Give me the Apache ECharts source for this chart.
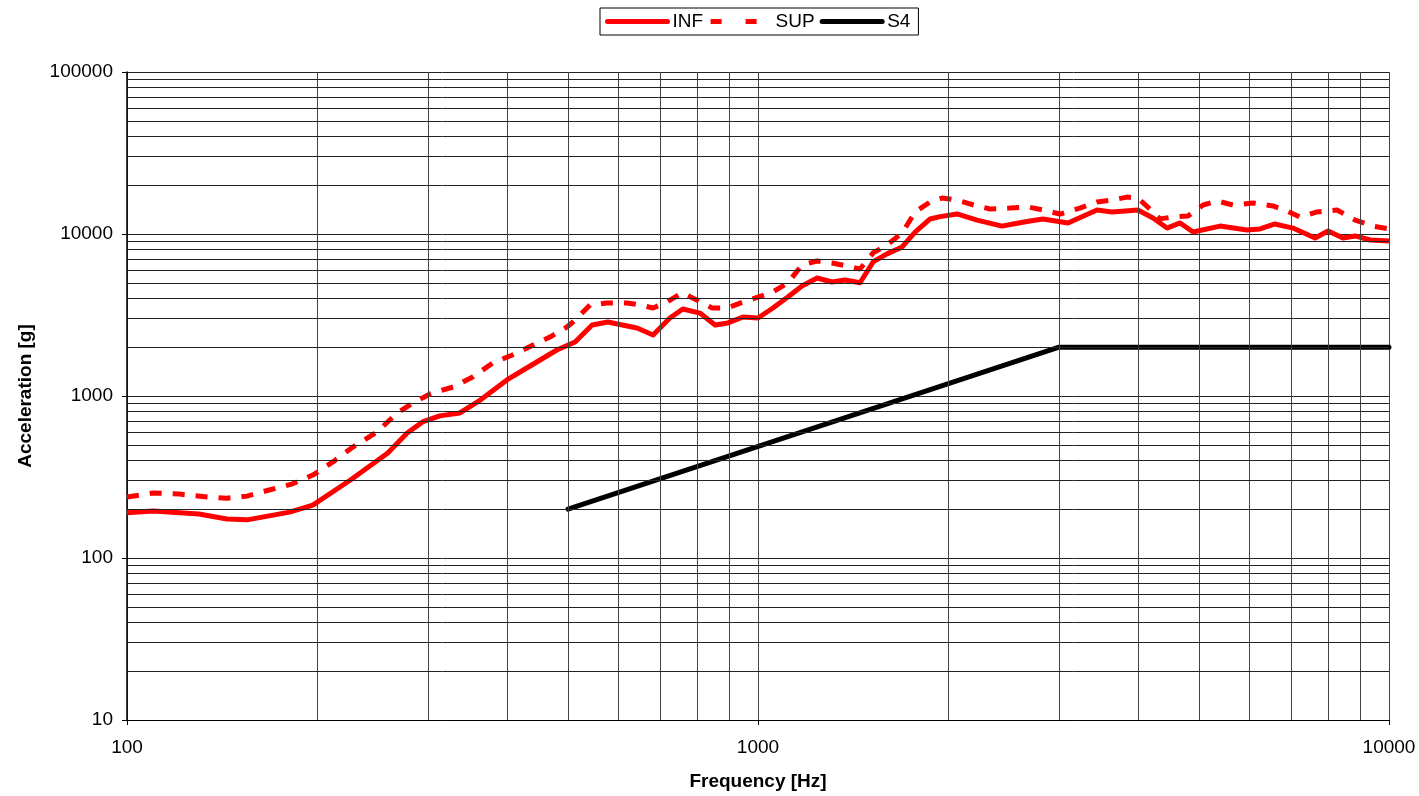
<!DOCTYPE html>
<html>
<head>
<meta charset="utf-8">
<title>Acceleration vs Frequency</title>
<script src="https://cdn.jsdelivr.net/npm/echarts@6/dist/echarts.min.js"></script>
<style>
  html, body { margin: 0; padding: 0; background: #fff; }
  #chart { width: 1419px; height: 796px; }
</style>
</head>
<body>
<div id="chart"></div>
<script>
// Lower envelope (INF): frequency [Hz] and acceleration [g]
const infFreq = [100, 110, 130, 144, 155, 181, 197, 226, 259, 278, 294, 313, 337, 363, 400, 430, 480, 513, 546, 578,
  643, 682, 725, 760, 809, 855, 896, 947, 1000, 1056, 1115, 1174, 1241, 1310, 1374, 1451, 1522, 1601, 1692, 1774,
  1874, 1943, 2067, 2224, 2436, 2536, 2698, 2829, 3099, 3446, 3640, 4000, 4227, 4448, 4666, 4892, 5398, 5956, 6246,
  6596, 7043, 7634, 8007, 8456, 8838, 9333, 10000];
const infVal = [190, 195, 187, 174, 172, 192, 212, 303, 445, 591, 692, 754, 786, 944, 1256, 1489, 1923, 2155, 2743, 2864,
  2630, 2380, 3030, 3441, 3250, 2743, 2825, 3075, 3030, 3493, 4083, 4775, 5350, 5055, 5200, 5000, 6720, 7540, 8318, 10280,
  12380, 12800, 13300, 12190, 11190, 11530, 12030, 12380, 11700, 14060, 13680, 14060, 12560, 10880, 11700, 10280, 11190, 10590, 10740,
  11530, 10880, 9440, 10430, 9440, 9730, 9180, 9060];

// Upper envelope (SUP)
const supFreq = [100, 110, 121, 134, 144, 155, 168, 183, 197, 212, 228, 249, 268, 284, 302, 329, 353, 380, 415, 440,
  468, 498, 509, 542, 576, 620, 650, 682, 717, 758, 800, 846, 893, 947, 1000, 1056, 1115, 1174, 1241, 1310,
  1384, 1451, 1522, 1601, 1692, 1774, 1874, 1957, 2067, 2224, 2332, 2507, 2679, 2829, 3010, 3237, 3446, 3640, 3844,
  4000, 4227, 4336, 4547, 4803, 5074, 5338, 5658, 6088, 6547, 6841, 7227, 7690, 8272, 8838, 9432, 10000];
const supVal = [238, 252, 248, 238, 234, 241, 263, 287, 325, 392, 484, 600, 786, 905, 1029, 1138, 1310, 1600, 1841, 2064,
  2311, 2666, 2864, 3648, 3750, 3750, 3648, 3493, 3800, 4325, 3917, 3493, 3493, 3800, 4083, 4385, 4990, 6443, 6810, 6620,
  6340, 6080, 7640, 8550, 10140, 13680, 15770, 16680, 16200, 14890, 14270, 14460, 14690, 14060, 13280, 14460, 15770, 16200, 16900,
  16680, 13680, 12400, 12740, 12930, 15100, 16000, 15100, 15540, 14890, 14060, 12740, 13680, 14060, 12190, 11190, 10740];

// S4 specification line
const s4Freq = [500, 3000, 10000];
const s4Val = [200, 2000, 2000];

// Axis ranges
const xMin = 100, xMax = 10000;
const yMin = 10, yMax = 100000;

const pairs = (xs, ys) => xs.map((x, i) => [x, ys[i]]);

// minor grid positions: 2..9 times each decade
function minorSteps(lo, hi) {
  const out = [];
  for (let d = lo; d < hi; d *= 10) {
    for (let k = 2; k <= 9; k++) out.push(d * k);
  }
  return out;
}
const minorX = minorSteps(xMin, xMax);
const minorY = minorSteps(yMin, yMax);

const chart = echarts.init(document.getElementById('chart'), null, { renderer: 'canvas' });

const fontFamily = 'Liberation Sans, Arial, sans-serif';
const tickFont = { fontFamily, fontSize: 19, color: '#000' };
const titleFont = { fontFamily, fontSize: 19, fontWeight: 'bold', color: '#000' };
// legend icons are plain line segments, so the marker is hidden
const noMarker = { color: 'rgba(0,0,0,0)', borderWidth: 0, opacity: 0 };

chart.setOption({
  animation: false,
  backgroundColor: '#fff',
  grid: { left: 127, right: 30, top: 72, bottom: 76, containLabel: false },
  legend: {
    left: 600,
    top: 8,
    padding: [4, 8, 4, 5],
    itemGap: 5,
    itemWidth: 60,
    itemHeight: 14,
    borderColor: '#000',
    borderWidth: 1,
    backgroundColor: '#fff',
    textStyle: { fontFamily, fontSize: 19, color: '#000' },
    data: [
      { name: 'INF', itemStyle: noMarker, lineStyle: { color: '#ff0000', width: 5, cap: 'round' } },
      { name: 'SUP', itemStyle: noMarker, lineStyle: { color: '#ff0000', width: 5, type: [11, 24] } },
      { name: 'S4', itemStyle: noMarker, lineStyle: { color: '#000', width: 5, cap: 'round' } }
    ]
  },
  xAxis: {
    type: 'log',
    logBase: 10,
    min: xMin,
    max: xMax,
    name: 'Frequency [Hz]',
    nameLocation: 'middle',
    nameGap: 52,
    nameTextStyle: titleFont,
    axisLine: { show: true, onZero: false, lineStyle: { color: '#000', width: 1 } },
    axisTick: { show: true, inside: false, length: 5, lineStyle: { color: '#000' } },
    axisLabel: Object.assign({ margin: 18, formatter: v => String(Math.round(v)) }, tickFont),
    splitLine: { show: true, lineStyle: { color: '#444', width: 1 } },
    minorTick: { show: false },
    minorSplitLine: { show: false }
  },
  yAxis: {
    type: 'log',
    logBase: 10,
    min: yMin,
    max: yMax,
    name: 'Acceleration [g]',
    nameLocation: 'middle',
    nameRotate: 90,
    nameGap: 92,
    nameTextStyle: titleFont,
    axisLine: { show: true, onZero: false, lineStyle: { color: '#000', width: 1.5 } },
    axisTick: { show: true, inside: false, length: 5, lineStyle: { color: '#000' } },
    axisLabel: Object.assign({ margin: 14, formatter: v => String(Math.round(v)) }, tickFont),
    splitLine: { show: true, lineStyle: { color: '#222', width: 1 } },
    minorTick: { show: false },
    minorSplitLine: { show: false }
  },
  series: [
    {
      // minor grid lines at 2..9 of every decade
      type: 'line',
      data: [],
      silent: true,
      z: 1,
      markLine: {
        silent: true,
        symbol: ['none', 'none'],
        label: { show: false },
        animation: false,
        emphasis: { disabled: true },
        data: [
          ...minorX.map(v => ({ xAxis: v, lineStyle: { color: '#444', width: 1, type: 'solid' } })),
          ...minorY.map(v => ({ yAxis: v, lineStyle: { color: '#222', width: 1, type: 'solid' } }))
        ]
      }
    },
    {
      name: 'INF',
      type: 'line',
      z: 4,
      data: pairs(infFreq, infVal),
      showSymbol: false,
      symbol: 'none',
      lineStyle: { color: '#ff0000', width: 5, join: 'round' },
      itemStyle: { color: '#ff0000' }
    },
    {
      name: 'SUP',
      type: 'line',
      z: 4,
      data: pairs(supFreq, supVal),
      showSymbol: false,
      symbol: 'none',
      lineStyle: { color: '#ff0000', width: 5, type: [12, 11] },
      itemStyle: { color: '#ff0000' }
    },
    {
      name: 'S4',
      type: 'line',
      z: 4,
      data: pairs(s4Freq, s4Val),
      showSymbol: false,
      symbol: 'none',
      lineStyle: { color: '#000', width: 5, cap: 'round', join: 'round' },
      itemStyle: { color: '#000' }
    }
  ]
});
</script>
</body>
</html>
